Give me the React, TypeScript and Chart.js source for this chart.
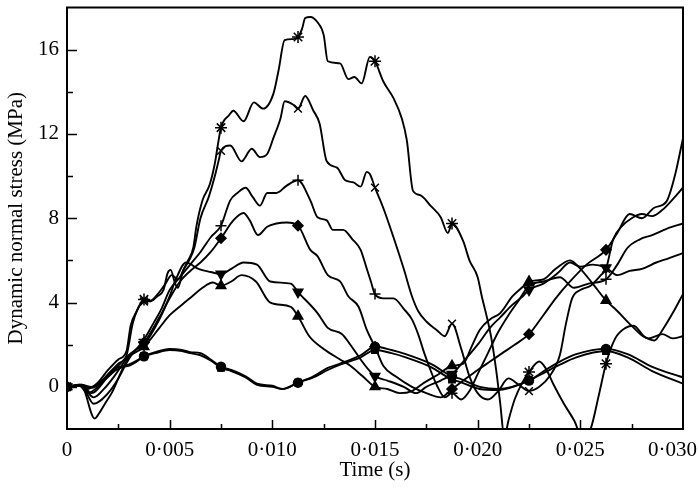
import { useEffect, useRef } from 'react';
import { Chart, registerables } from 'chart.js';

Chart.register(...registerables);

// time in ms, stress in MPa
const MARKER_T = [0, 3.75, 7.5, 11.25, 15, 18.75, 22.5, 26.25];

const STAR: [number, number][] = [[0,0],[0.6,0.1],[1.0,-0.1],[1.5,0.2],[2.0,0.8],[2.5,1.3],[2.9,1.7],[3.1,2.9],[3.4,3.6],[3.75,4.15],[4.05,4.05],[4.4,4.3],[4.7,4.6],[4.9,5.4],[5.05,5.55],[5.25,4.95],[5.4,4.7],[5.65,5.5],[5.9,6.0],[6.15,6.6],[6.3,7.6],[6.6,8.85],[6.95,9.6],[7.2,10.6],[7.35,11.5],[7.5,12.3],[7.9,12.9],[8.1,13.1],[8.6,12.6],[9.1,13.5],[9.55,13.2],[10.05,13.9],[10.3,15.0],[10.6,16.45],[11.0,16.5],[11.25,16.6],[11.45,17.0],[11.6,17.5],[11.85,17.55],[12.2,17.3],[12.5,16.7],[12.7,15.45],[13.3,15.35],[13.7,14.6],[14.0,14.7],[14.35,14.4],[14.75,15.65],[15.0,15.45],[15.4,14.5],[15.9,13.7],[16.3,12.75],[16.55,11.7],[16.85,9.3],[17.2,9.1],[17.7,8.6],[18.2,8.05],[18.55,7.3],[18.75,7.75],[19.3,6.9],[19.6,6.0],[20.0,5.2],[20.2,4.3],[20.45,3.3],[20.65,2.4],[20.9,0.8],[21.1,-0.8],[21.3,-2.4],[21.5,-1.6],[21.8,-0.6],[22.2,0.25],[22.5,0.7],[23.0,1.2],[23.3,0.9],[23.7,0.1],[24.2,-0.8],[24.7,-1.6],[25.1,-2.4],[25.5,-2.0],[25.9,-0.4],[26.25,1.1],[26.7,2.3],[27.2,2.8],[27.6,2.9],[28.1,2.4],[28.6,2.2],[29.0,2.7],[29.5,3.5],[30.0,4.4]];

const CROSS_X: [number, number][] = [[0,0],[0.6,0.05],[1.0,-0.3],[1.5,0.0],[2.0,0.6],[2.5,1.1],[2.9,1.5],[3.2,3.0],[3.5,3.8],[3.75,4.05],[4.1,4.1],[4.5,4.5],[4.8,4.9],[5.1,5.3],[5.4,5.1],[5.7,5.6],[6.0,6.1],[6.2,6.6],[6.5,8.0],[6.9,9.0],[7.2,10.0],[7.4,10.8],[7.5,11.2],[7.95,11.45],[8.5,10.7],[9.0,11.3],[9.4,10.9],[9.75,11.05],[10.05,11.8],[10.4,12.75],[10.6,13.55],[11.0,13.4],[11.25,13.2],[11.6,13.8],[12.0,13.1],[12.3,12.5],[12.65,10.7],[13.15,10.4],[13.55,9.8],[13.95,9.7],[14.3,9.5],[14.6,10.2],[14.75,10.1],[15.0,9.45],[15.4,8.5],[15.9,7.1],[16.4,5.6],[16.8,4.3],[17.1,3.6],[17.5,3.1],[18.0,2.7],[18.4,2.4],[18.75,3.0],[19.2,1.8],[19.6,0.5],[20.0,-0.3],[20.5,-0.6],[21.0,-0.2],[21.5,0.4],[22.0,0.1],[22.5,-0.2],[23.0,0.0],[23.5,0.5],[24.0,1.5],[24.3,3.0],[24.6,4.2],[25.0,4.6],[25.5,4.8],[26.0,5.3],[26.25,5.6],[26.6,7.0],[27.0,7.6],[27.5,8.0],[28.0,8.2],[28.5,8.1],[29.0,8.4],[29.5,8.9],[30.0,9.45]];

const PLUS: [number, number][] = [[0,0],[0.7,0.05],[1.3,-0.5],[1.8,-0.1],[2.3,0.5],[2.8,1.2],[3.2,1.6],[3.75,2.25],[4.2,3.0],[4.6,3.7],[5.0,4.6],[5.5,5.2],[6.0,5.8],[6.5,6.4],[7.0,7.1],[7.5,7.65],[7.95,8.85],[8.3,9.2],[8.7,9.45],[9.05,9.0],[9.4,8.6],[9.75,9.2],[10.2,9.2],[10.7,9.55],[11.25,9.8],[11.85,8.85],[12.2,8.05],[12.65,7.9],[12.95,7.45],[13.45,7.45],[13.9,7.0],[14.3,6.5],[14.6,5.6],[14.8,5.0],[15.0,4.4],[15.4,4.2],[15.9,4.2],[16.4,3.7],[16.8,3.2],[17.1,2.5],[17.4,1.6],[17.7,0.8],[18.0,0.1],[18.4,-0.5],[18.75,-0.3],[19.2,-0.6],[19.6,-0.2],[20.0,0.6],[20.5,1.6],[21.0,2.6],[21.5,3.4],[22.0,4.1],[22.5,4.8],[23.2,5.0],[24.0,5.2],[24.7,4.7],[25.4,4.9],[26.25,5.1],[26.8,5.8],[27.3,6.6],[27.9,7.0],[28.5,7.2],[29.2,7.5],[30.0,7.75]];

const DIAMOND: [number, number][] = [[0,0],[0.7,0.1],[1.2,-0.3],[2.0,0.5],[2.5,1.0],[3.0,1.5],[3.75,2.1],[4.5,3.3],[5.0,4.2],[5.5,5.0],[6.0,5.5],[6.5,5.9],[7.0,6.4],[7.5,7.05],[8.1,7.9],[8.6,8.25],[8.9,7.9],[9.3,7.2],[9.75,7.6],[10.2,7.75],[10.7,7.8],[11.25,7.65],[11.85,6.5],[12.2,6.2],[12.7,5.3],[13.3,5.0],[13.7,4.3],[14.2,3.8],[14.6,2.7],[15.0,1.9],[15.4,1.0],[16.0,0.5],[16.8,0.0],[17.5,-0.3],[18.2,-0.5],[18.75,-0.1],[19.3,0.3],[20.0,0.8],[20.6,1.2],[21.2,1.6],[21.8,2.0],[22.5,2.5],[23.2,3.4],[23.8,4.2],[24.5,5.0],[25.3,5.8],[26.25,6.5],[26.8,7.3],[27.4,8.2],[28.0,8.0],[28.6,8.5],[29.2,8.8],[29.6,10.0],[30.0,11.8]];

const TRI_DOWN: [number, number][] = [[0,0],[0.7,0.05],[1.3,-0.8],[2.0,-0.3],[2.5,0.4],[3.0,1.3],[3.4,1.8],[3.75,2.0],[4.5,3.2],[5.0,4.3],[5.3,5.1],[5.8,5.9],[6.4,5.6],[7.0,5.45],[7.5,5.35],[8.0,5.6],[8.6,5.9],[9.25,5.8],[9.9,5.0],[10.9,4.9],[11.25,4.5],[12.2,3.5],[12.7,2.8],[13.4,2.5],[13.8,2.0],[14.3,1.3],[14.7,0.8],[15.0,0.5],[15.6,0.3],[16.4,0.0],[17.0,-0.3],[17.5,0.0],[18.2,0.3],[18.75,0.6],[19.3,1.2],[20.0,2.0],[20.6,2.8],[21.1,3.3],[21.7,3.9],[22.2,4.3],[22.5,4.6],[23.2,4.9],[23.9,5.4],[24.5,5.9],[25.0,5.7],[25.6,5.8],[26.25,5.65],[26.8,5.3],[27.4,5.5],[28.0,5.6],[28.7,5.9],[29.3,6.1],[30.0,6.35]];

const TRI_UP: [number, number][] = [[0,0],[0.7,0.05],[1.35,-1.5],[1.6,-1.2],[1.85,-0.8],[2.2,-0.25],[2.5,0.4],[2.75,0.95],[3.05,1.45],[3.45,1.7],[3.75,1.9],[4.5,2.8],[5.0,3.4],[5.6,3.9],[6.1,4.3],[6.6,4.7],[7.1,4.95],[7.5,4.8],[8.0,5.0],[8.5,5.3],[9.2,5.0],[9.9,4.0],[10.9,3.8],[11.25,3.35],[11.8,2.4],[12.5,1.8],[13.3,1.3],[13.8,1.0],[14.4,0.5],[15.0,0.0],[15.6,-0.1],[16.2,-0.3],[16.8,-0.2],[17.4,0.2],[18.1,0.6],[18.75,1.0],[19.3,1.1],[19.7,1.9],[20.1,2.7],[20.6,3.2],[21.1,3.5],[21.7,4.3],[22.2,4.75],[22.5,5.0],[23.2,5.1],[23.8,5.6],[24.5,6.0],[25.0,5.6],[25.6,4.9],[26.25,4.1],[26.8,3.6],[27.5,2.9],[28.3,2.3],[29.0,2.5],[29.5,2.3],[30.0,2.4]];

const CIRCLE: [number, number][] = [[0,0],[0.7,0.1],[1.2,0.0],[1.8,0.4],[2.4,0.9],[3.0,1.0],[3.4,1.2],[3.75,1.45],[4.3,1.65],[5.0,1.8],[5.6,1.75],[6.0,1.65],[6.5,1.6],[7.0,1.3],[7.5,0.95],[8.0,0.8],[8.7,0.5],[9.25,0.15],[10.0,0.05],[10.5,-0.1],[11.25,0.2],[12.0,0.5],[12.7,0.9],[13.3,1.1],[14.3,1.5],[15.0,1.9],[15.8,1.75],[16.5,1.55],[17.7,1.1],[18.75,0.5],[19.1,0.4],[20.1,0.0],[21.0,-0.1],[22.5,0.3],[23.3,0.8],[24.0,1.2],[24.8,1.55],[26.25,1.8],[27.3,1.55],[28.5,0.95],[30.0,0.45]];

const SQUARE: [number, number][] = [[0,0],[0.7,0.05],[1.2,-0.05],[1.8,0.3],[2.4,0.8],[3.0,1.05],[3.4,1.25],[3.75,1.45],[4.3,1.6],[5.0,1.75],[5.6,1.7],[6.0,1.6],[6.5,1.5],[7.0,1.25],[7.5,0.9],[8.0,0.75],[8.7,0.45],[9.25,0.1],[10.0,0.0],[10.5,-0.1],[11.25,0.2],[12.0,0.45],[12.7,0.8],[13.3,1.05],[14.3,1.4],[15.0,1.75],[15.8,1.6],[16.5,1.4],[17.7,0.95],[18.75,0.35],[19.1,0.25],[20.1,-0.1],[21.0,-0.15],[22.5,0.3],[23.3,0.7],[24.0,1.05],[24.8,1.4],[26.25,1.7],[27.3,1.4],[28.5,0.75],[30.0,0.15]];

const Y_LABELS = [0, 4, 8, 12, 16];
const X_LABELS = [0, 5, 10, 15, 20, 25, 30];
const X_LAST = 30;

const FONT = "'Liberation Serif', 'Times New Roman', serif";
const FONT_SIZE = 21;

const xLabel = (n: number) => (n === 0 ? '0' : '0·' + String(n).padStart(3, '0'));

const SERIES = [
  { data: STAR, style: 'star', r: 6, rot: 0, filled: false },
  { data: CROSS_X, style: 'crossRot', r: 5.5, rot: 0, filled: false },
  { data: PLUS, style: 'cross', r: 5.5, rot: 0, filled: false },
  { data: DIAMOND, style: 'rectRot', r: 5, rot: 0, filled: true },
  { data: TRI_DOWN, style: 'triangle', r: 5.5, rot: 180, filled: true },
  { data: TRI_UP, style: 'triangle', r: 5.5, rot: 0, filled: true },
  { data: CIRCLE, style: 'circle', r: 4.5, rot: 0, filled: true },
  { data: SQUARE, style: 'rect', r: 4.5, rot: 0, filled: true },
];

const framePlugin = {
  id: 'frameTicks',
  afterDraw(chart: any) {
    const { ctx, chartArea: a, scales } = chart;
    const xs = scales.x;
    const ys = scales.y;
    ctx.save();
    ctx.strokeStyle = '#000';
    ctx.lineWidth = 1.5;
    ctx.beginPath();
    for (const t of xs.ticks) {
      const v = t.value;
      if (v <= xs.min || v >= xs.max) continue;
      const px = Math.round(xs.getPixelForValue(v)) + 0.5;
      const len = Math.abs(v % 5) < 1e-6 ? 9 : 5;
      ctx.moveTo(px, a.bottom);
      ctx.lineTo(px, a.bottom - len);
    }
    for (const t of ys.ticks) {
      const v = t.value;
      if (v <= ys.min || v >= ys.max) continue;
      const py = Math.round(ys.getPixelForValue(v)) + 0.5;
      const len = Math.abs(v % 4) < 1e-6 ? 10 : 6;
      ctx.moveTo(a.left, py);
      ctx.lineTo(a.left + len, py);
    }
    ctx.stroke();
    ctx.lineWidth = 2;
    ctx.strokeRect(a.left, a.top, a.right - a.left, a.bottom - a.top);
    // last x label, pulled inside the canvas edge as in the original
    ctx.fillStyle = '#000';
    ctx.font = `${FONT_SIZE}px ${FONT}`;
    ctx.textAlign = 'right';
    ctx.textBaseline = 'middle';
    ctx.fillText(xLabel(X_LAST), xs.getPixelForValue(X_LAST) + 14, a.bottom + 9 + FONT_SIZE * 0.6);
    ctx.restore();
  },
};

export default function App() {
  const ref = useRef<HTMLCanvasElement | null>(null);

  useEffect(() => {
    if (!ref.current) return;
    const datasets = SERIES.map((s) => ({
      data: s.data.map(([t, v]) => ({ x: t, y: v })),
      borderColor: '#000',
      borderWidth: 1.9,
      fill: false,
      tension: 0.3,
      cubicInterpolationMode: 'monotone' as const,
      pointStyle: s.style as any,
      pointRotation: s.rot,
      pointBackgroundColor: s.filled ? '#000' : 'rgba(0,0,0,0)',
      pointBorderColor: '#000',
      pointBorderWidth: 1.5,
      pointRadius: (ctx: any) => (ctx.raw && MARKER_T.includes(ctx.raw.x) ? s.r : 0),
      pointHoverRadius: 0,
    }));

    const chart = new Chart(ref.current, {
      type: 'line',
      data: { datasets },
      plugins: [framePlugin],
      options: {
        responsive: false,
        animation: false,
        devicePixelRatio: 1,
        events: [],
        layout: { padding: { left: 0, right: 16, top: 7, bottom: 0 } },
        plugins: { legend: { display: false }, tooltip: { enabled: false } },
        scales: {
          x: {
            type: 'linear',
            min: 0,
            max: 30,
            grid: { display: false, drawTicks: false },
            border: { display: false },
            afterFit: (s: any) => {
              s.height = 65;
              s.paddingLeft = 0;
              s.paddingRight = 0;
            },
            ticks: {
              stepSize: 2.5,
              autoSkip: false,
              maxRotation: 0,
              padding: 9,
              color: '#000',
              font: { family: FONT, size: FONT_SIZE },
              callback: (v: any) => {
                const n = Number(v);
                if (!X_LABELS.includes(n) || n === X_LAST) return '';
                return xLabel(n);
              },
            },
            title: {
              display: true,
              text: 'Time (s)',
              color: '#000',
              font: { family: FONT, size: FONT_SIZE },
              padding: { top: 0, bottom: 11 },
            },
          },
          y: {
            type: 'linear',
            min: -2,
            max: 18,
            grid: { display: false, drawTicks: false },
            border: { display: false },
            afterFit: (s: any) => {
              s.width = 67;
              s.paddingTop = 0;
              s.paddingBottom = 0;
            },
            ticks: {
              stepSize: 2,
              autoSkip: false,
              padding: 8,
              color: '#000',
              font: { family: FONT, size: FONT_SIZE },
              callback: (v: any) => (Y_LABELS.includes(Number(v)) ? String(v) : ''),
            },
            title: {
              display: true,
              text: 'Dynamic normal stress (MPa)',
              color: '#000',
              font: { family: FONT, size: FONT_SIZE },
              padding: { top: 4, bottom: 0 },
            },
          },
        },
      },
    });
    return () => chart.destroy();
  }, []);

  return (
    <div style={{ position: 'absolute', left: 0, top: 0, width: 699, height: 494, background: '#fff' }}>
      <canvas ref={ref} width={699} height={494} style={{ display: 'block', width: 699, height: 494 }} />
    </div>
  );
}
